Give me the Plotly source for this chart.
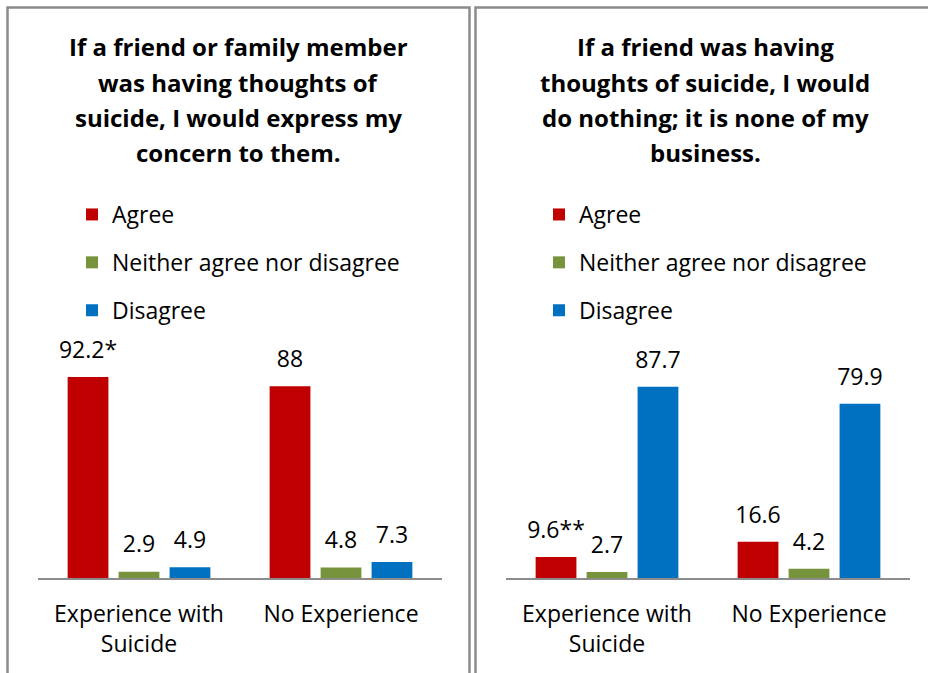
import plotly.graph_objects as go

W, H = 928, 673

categories = ["Experience with<br>Suicide", "No Experience"]
series_names = ["Agree", "Neither agree nor disagree", "Disagree"]
series_colors = ["#C00000", "#77933C", "#0070C0"]

# left panel: "express my concern"
left_agree = [92.2, 88.0]
left_neither = [2.9, 4.8]
left_disagree = [4.9, 7.3]
left_labels = [["92.2*", "88"], ["2.9", "4.8"], ["4.9", "7.3"]]
left_title = ["If a friend or family member", "was having thoughts of",
              "suicide, I would express my", "concern to them."]

# right panel: "do nothing"
right_agree = [9.6, 16.6]
right_neither = [2.7, 4.2]
right_disagree = [87.7, 79.9]
right_labels = [["9.6**", "16.6"], ["2.7", "4.2"], ["87.7", "79.9"]]
right_title = ["If a friend was having", "thoughts of suicide, I would",
               "do nothing; it is none of my", "business."]

FONT = "'Open Sans', sans-serif"
FS = 23


def fx(p):
    return p / W


def fy(p):
    return 1 - p / H


fig = go.Figure()

panels = [
    ("x", "y", "legend", [left_agree, left_neither, left_disagree], left_labels),
    ("x2", "y2", "legend2", [right_agree, right_neither, right_disagree], right_labels),
]
for k, (xa, ya, leg, vals, labs) in enumerate(panels):
    for i, name in enumerate(series_names):
        fig.add_trace(go.Bar(
            x=categories, y=vals[i], name=name, xaxis=xa, yaxis=ya,
            marker=dict(color=series_colors[i], line=dict(width=0)),
            offsetgroup=str(i), legend=leg, legendgroup=f"{k}{i}",
            hoverinfo="skip",
        ))
    for i, name in enumerate(series_names):
        # invisible markers just to carry the value labels above the bars
        fig.add_trace(go.Scatter(
            x=categories, y=vals[i], xaxis=xa, yaxis=ya, mode="markers+text",
            text=labs[i], textposition="top center",
            textfont=dict(size=FS, color="#000", family=FONT),
            marker=dict(size=20, color="rgba(0,0,0,0)"),
            offsetgroup=str(i), showlegend=False, cliponaxis=False,
            hoverinfo="skip",
        ))

axis_common = dict(
    showgrid=False, zeroline=False, showline=True, linecolor="#8c8c8c", linewidth=1.5,
    ticks="outside", ticklen=15, tickcolor="rgba(0,0,0,0)",
    tickfont=dict(size=FS, color="#000", family=FONT), range=[-0.5, 1.5], fixedrange=True,
)
yaxis_common = dict(range=[0, 100], visible=False, fixedrange=True)

legend_common = dict(xanchor="left", yanchor="top", font=dict(size=FS, color="#000", family=FONT),
                     tracegroupgap=15, bgcolor="rgba(0,0,0,0)")

fig.update_layout(
    width=W, height=H, margin=dict(l=0, r=0, t=0, b=0),
    paper_bgcolor="white", plot_bgcolor="white",
    barmode="group", bargap=0.243, bargroupgap=0.2,
    scattermode="group", scattergap=0.243,
    xaxis=dict(domain=[fx(38), fx(442)], anchor="y", **axis_common),
    xaxis2=dict(domain=[fx(506), fx(910)], anchor="y2", **axis_common),
    yaxis=dict(domain=[fy(578), fy(360)], anchor="x", **yaxis_common),
    yaxis2=dict(domain=[fy(578), fy(360)], anchor="x2", **yaxis_common),
    legend=dict(x=fx(72), y=fy(193), **legend_common),
    legend2=dict(x=fx(539), y=fy(193), **legend_common),
    font=dict(family=FONT, color="#000"),
)

# panel titles, one annotation per line
for cx, lines in [(238, left_title), (705, right_title)]:
    for j, line in enumerate(lines):
        fig.add_annotation(
            x=fx(cx), y=fy(47 + j * 35.3), xref="paper", yref="paper",
            text=f"<b>{line}</b>", showarrow=False, xanchor="center", yanchor="middle",
            font=dict(size=24, color="#000", family=FONT),
        )

# panel borders
border = dict(color="#8c8c8c", width=2.5)
fig.add_shape(type="rect", xref="paper", yref="paper",
              x0=fx(7.5), x1=fx(469.5), y0=fy(690), y1=fy(7.5), line=border)
fig.add_shape(type="rect", xref="paper", yref="paper",
              x0=fx(475.5), x1=fx(960), y0=fy(690), y1=fy(7.5), line=border)

fig.write_html("out.html", config={"displayModeBar": False},
               post_script="document.body.style.margin='0';")
